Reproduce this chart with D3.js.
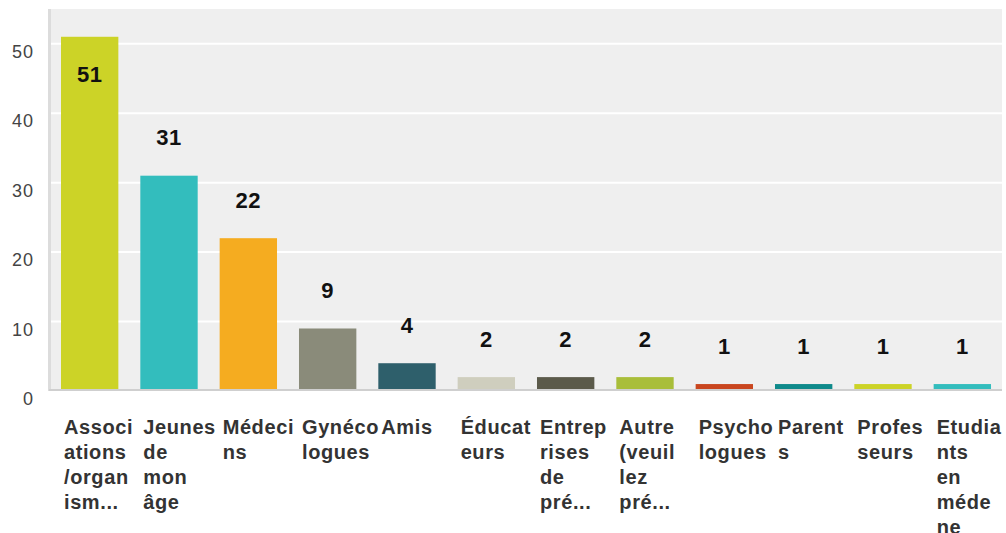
<!DOCTYPE html>
<html>
<head>
<meta charset="utf-8">
<script src="https://cdn.jsdelivr.net/npm/d3@7"></script>
<style>
  html, body { margin: 0; padding: 0; background: #ffffff; }
  svg { display: block; }
</style>
</head>
<body>
<svg id="chart" width="1006" height="533"></svg>
<script>
// ---- data ----
const categories = [
  "Associations/organismes", "Jeunes de mon âge", "Médecins", "Gynécologues", "Amis",
  "Éducateurs", "Entreprises de prévention", "Autre (veuillez préciser)", "Psychologues",
  "Parents", "Professeurs", "Etudiants en médecine"
];
const values = [51, 31, 22, 9, 4, 2, 2, 2, 1, 1, 1, 1];
const categoryLabelLines = [
  ["Associ", "ations", "/organ", "ism..."],
  ["Jeunes", "de", "mon", "âge"],
  ["Médeci", "ns"],
  ["Gynéco", "logues"],
  ["Amis"],
  ["Éducat", "eurs"],
  ["Entrep", "rises", "de", "pré..."],
  ["Autre", "(veuil", "lez", "pré..."],
  ["Psycho", "logues"],
  ["Parent", "s"],
  ["Profes", "seurs"],
  ["Etudia", "nts", "en", "méde", "ne"]
];
const barColors = [
  "#ccd327", "#33bdbd", "#f5ac20", "#8a8b7a", "#2e5f6b", "#cfcebe",
  "#5b5a4a", "#a9be3a", "#c9461f", "#0f8a8b", "#ccd327", "#33bdbd"
];
const yTicks = [0, 10, 20, 30, 40, 50];
const yMax = 55;

// ---- layout ----
const svg = d3.select("#chart");
const plot = { left: 49, right: 1002, top: 9, bottom: 391 };

const x = d3.scaleBand()
  .domain(categories)
  .range([plot.left + 1, plot.right])
  .paddingInner(0.277)
  .paddingOuter(0.1385);

const y = d3.scaleLinear()
  .domain([0, yMax])
  .range([plot.bottom, plot.top]);

// background
svg.append("rect")
  .attr("x", plot.left)
  .attr("y", plot.top)
  .attr("width", plot.right - plot.left)
  .attr("height", y(0) - 1 - plot.top)
  .attr("fill", "#efefef");

// gridlines
svg.append("g").selectAll("line")
  .data(yTicks.filter(d => d > 0))
  .join("line")
  .attr("x1", plot.left + 2)
  .attr("x2", plot.right)
  .attr("y1", d => y(d))
  .attr("y2", d => y(d))
  .attr("stroke", "#ffffff")
  .attr("stroke-width", 2);

// left axis line
svg.append("line")
  .attr("x1", plot.left + 0.5).attr("x2", plot.left + 0.5)
  .attr("y1", plot.top).attr("y2", y(0))
  .attr("stroke", "#dcdcdc").attr("stroke-width", 3);

// bars
svg.append("g").selectAll("rect")
  .data(values)
  .join("rect")
  .attr("x", (d, i) => x(categories[i]))
  .attr("width", x.bandwidth())
  .attr("y", d => y(d))
  .attr("height", d => y(0) - y(d))
  .attr("fill", (d, i) => barColors[i]);

// baseline
svg.append("line")
  .attr("x1", plot.left).attr("x2", plot.right)
  .attr("y1", y(0) - 1).attr("y2", y(0) - 1)
  .attr("stroke", "#cfcfcf").attr("stroke-width", 2);

// y tick labels
svg.append("g").selectAll("text")
  .data(yTicks)
  .join("text")
  .attr("x", 34)
  .attr("y", d => y(d) + 8)
  .attr("dy", "0.35em")
  .attr("text-anchor", "end")
  .attr("font-family", "Liberation Sans, Arial, sans-serif")
  .attr("font-size", 18)
  .attr("letter-spacing", 1)
  .attr("fill", "#444444")
  .text(d => d);

// value labels
svg.append("g").selectAll("text")
  .data(values)
  .join("text")
  .attr("x", (d, i) => x(categories[i]) + x.bandwidth() / 2)
  .attr("y", d => {
    const top = y(d);
    return (top - 38 - 10 < plot.top) ? top + 38 : top - 38;
  })
  .attr("dy", "0.35em")
  .attr("text-anchor", "middle")
  .attr("font-family", "Liberation Sans, Arial, sans-serif")
  .attr("font-weight", "bold")
  .attr("font-size", 22)
  .attr("letter-spacing", 0.5)
  .attr("fill", "#111111")
  .text(d => d);

// category labels
const catG = svg.append("g");
categoryLabelLines.forEach((lines, i) => {
  const t = catG.append("text")
    .attr("x", x(categories[i]) + 3)
    .attr("y", 426.5)
    .attr("font-family", "Liberation Sans, Arial, sans-serif")
    .attr("font-weight", "bold")
    .attr("font-size", 20)
    .attr("letter-spacing", 0.6)
    .attr("fill", "#333333");
  lines.forEach((ln, j) => {
    t.append("tspan")
      .attr("x", x(categories[i]) + 3)
      .attr("y", 426.5 + j * 25)
      .attr("dy", "0.35em")
      .text(ln);
  });
});
</script>
</body>
</html>
